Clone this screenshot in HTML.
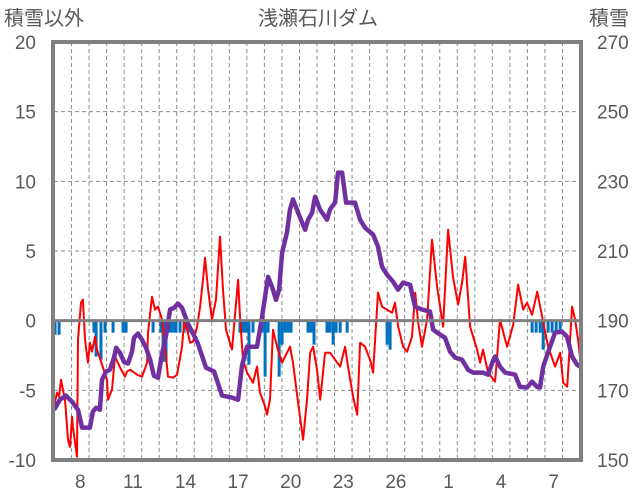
<!DOCTYPE html>
<html><head><meta charset="utf-8">
<style>
html,body{margin:0;padding:0;background:#fff;}
svg{display:block;font-family:"Liberation Sans","Noto Sans CJK JP",sans-serif;}
</style></head>
<body>
<svg id="chart" width="636" height="501" viewBox="0 0 636 501">
<text x="318" y="25" text-anchor="middle" font-size="20" fill="#595959">浅瀬石川ダム</text>
<text x="4" y="25" font-size="20" fill="#595959">積雪以外</text>
<text x="589" y="25" font-size="20" fill="#595959">積雪</text>
<g id="grid"></g><g id="bars"></g><g id="lines"></g><g id="frame"></g><g id="labels"></g>
</svg>
<script>
const leftTicks=[-10,-5,0,5,10,15,20];
const rightTicks=[150,170,190,210,230,250,270];
const dayLabels=["8","11","14","17","20","23","26","1","4","7"];
const dayLabelIdx=[1,4,7,10,13,16,19,22,25,28];
const nDays=30;
const redT=[0,.17,.29,.40,.51,.63,.80,.91,1.03,1.08,1.31,1.37,1.54,1.65,1.77,1.94,2.05,2.17,2.34,2.45,2.74,3.02,3.08,3.31,3.48,3.77,4.05,4.16,4.34,4.74,5.02,5.31,5.36,5.59,5.76,5.93,6.16,6.33,6.50,6.79,7.02,7.30,7.42,7.59,7.76,7.93,8.16,8.33,8.50,8.61,8.79,9.01,9.24,9.47,9.64,9.81,10.15,10.50,10.61,10.78,11.01,11.35,11.58,11.75,12.04,12.15,12.32,12.49,12.72,13.01,13.46,13.63,13.92,14.21,14.43,14.61,14.78,15.00,15.18,15.46,15.75,16.03,16.32,16.60,16.77,17.06,17.29,17.46,17.74,18.03,18.20,18.48,18.71,19.00,19.28,19.45,19.63,19.91,20.14,20.42,20.60,20.77,20.99,21.28,21.56,21.85,22.19,22.48,22.76,23.05,23.28,23.45,23.73,24.13,24.30,24.47,24.76,25.16,25.44,25.84,26.19,26.47,26.76,26.98,27.27,27.56,27.84,28.18,28.58,28.87,29.04,29.27,29.55,29.72,29.89,30.00];
const redV=[-6.17,-5.17,-5.46,-4.24,-4.95,-5.67,-8.54,-9.05,-6.89,-7.61,-9.76,-1.36,1.29,1.51,-1.36,-3.02,-1.58,-2.23,-1.15,-2.08,-3.16,-4.24,-5.67,-4.95,-2.58,-3.37,-4.02,-3.66,-3.52,-3.88,-4.02,-3.02,-0.86,1.72,0.79,1.01,0.07,-1.87,-4.02,-4.09,-3.88,-1.87,-0.14,-0.65,-1.58,-1.51,-0.43,1.01,2.94,4.52,2.23,0.07,1.51,6.03,2.23,-0.65,-2.08,2.94,0.29,-2.80,-3.73,-4.45,-3.30,-5.17,-6.17,-6.75,-5.67,-0.65,-1.87,-3.02,-1.87,-3.02,-5.89,-8.54,-5.67,-2.30,-1.87,-3.52,-5.67,-2.30,-2.30,-2.80,-3.30,-1.87,-3.30,-5.46,-6.75,-1.58,-1.87,-2.80,-3.73,2.01,1.01,0.79,0.57,1.29,-0.43,-1.87,-2.23,-1.15,2.01,-0.14,-1.87,0.07,5.82,2.44,-0.43,6.53,3.09,1.15,2.80,4.59,-0.43,-2.08,-3.02,-2.08,-3.73,-4.38,0.07,-1.87,-0.29,2.58,0.79,1.29,0.43,2.08,0.29,-1.87,-3.30,-2.30,-4.45,-4.74,1.01,0.07,-1.36,-2.66];
const snowT=[0,.34,.68,1.03,1.37,1.6,2.05,2.22,2.4,2.62,2.74,2.97,3.19,3.42,3.54,3.76,3.99,4.22,4.45,4.56,4.79,5.02,5.25,5.48,5.7,5.93,6.16,6.39,6.62,6.85,7.07,7.3,7.64,7.99,8.21,8.67,9.13,9.58,10.15,10.5,10.72,11.01,11.58,11.87,12.04,12.21,12.49,12.66,12.84,13.01,13.29,13.46,13.63,13.92,14.32,14.49,14.72,14.89,15.17,15.57,15.74,16.03,16.2,16.43,16.66,17.17,17.46,17.74,18.2,18.48,18.71,19.0,19.34,19.62,19.91,20.31,20.59,20.99,21.45,21.62,22.02,22.3,22.59,22.88,23.27,23.62,23.9,24.47,24.76,24.99,25.16,25.44,25.73,26.3,26.58,26.98,27.27,27.55,27.72,27.9,28.29,28.58,28.98,29.26,29.55,29.83,30.0];
const snowV=[164.4,167.3,168.5,166.7,164.4,159.3,159.3,163.9,165.0,164.4,173.0,175.4,175.9,179.4,182.2,180.8,178.2,177.7,181.1,185.1,186.3,184.5,182.2,178.8,174.2,173.6,180.5,185.7,193.2,193.7,194.9,193.7,189.1,185.7,183.4,176.5,175.4,168.5,167.9,167.3,177.1,182.5,182.5,191.1,196.9,202.6,198.9,196.0,198.9,209.5,215.3,221.9,224.8,221.0,216.1,219.0,221.0,225.6,221.9,219.0,221.9,223.9,232.5,232.5,223.9,223.9,219.0,216.7,214.7,211.3,205.5,203.2,201.2,198.9,200.9,200.3,194.0,193.2,192.6,187.4,186.0,185.1,181.1,179.4,178.8,175.9,175.1,175.1,174.5,177.9,179.7,176.8,175.1,174.5,171.0,170.8,172.5,171.0,170.8,176.8,182.5,186.6,186.8,185.4,179.7,177.4,176.8];
const precipT=[.06,.29,2.28,2.40,2.68,2.91,3.37,3.94,4.11,5.65,6.10,6.22,6.39,6.62,6.79,6.96,7.19,7.42,7.64,10.61,10.78,10.95,11.12,11.35,11.87,12.04,12.21,12.84,13.01,13.18,13.35,13.52,14.49,14.66,14.83,15.57,15.74,15.92,16.09,16.32,16.72,19.0,19.17,27.27,27.50,27.73,27.90,28.18,28.41,28.64,28.87];
const precipV=[-1.01,-1.01,-0.86,-2.58,-2.80,-0.86,-0.86,-0.86,-0.86,-0.86,-0.86,-2.95,-2.95,-0.86,-0.86,-0.86,-0.86,-0.86,-0.86,-0.86,-0.86,-0.86,-3.16,-0.86,-0.86,-4.02,-0.86,-4.02,-1.72,-0.86,-0.86,-0.86,-0.86,-0.86,-1.72,-0.86,-0.86,-1.72,-0.86,-0.86,-0.86,-1.72,-2.08,-0.86,-0.86,-0.86,-2.08,-0.86,-0.86,-0.86,-0.86];

const L=54,R=580,T=42,B=460;
const NS="http://www.w3.org/2000/svg";
function xS(t){return L+t*(R-L)/nDays;}
function yL(v){return B-(v+10)*(B-T)/30;}
function yR(s){return B-(s-150)*(B-T)/120;}
function mk(tag,attrs,parent){const e=document.createElementNS(NS,tag);for(const k in attrs)e.setAttribute(k,attrs[k]);parent.appendChild(e);return e;}
const grid=document.getElementById('grid'),bars=document.getElementById('bars'),lines=document.getElementById('lines'),frame=document.getElementById('frame'),labels=document.getElementById('labels');
for(let d=1;d<nDays;d++){
  const g=mk('line',{x1:xS(d),x2:xS(d),y1:T,y2:B,stroke:'#8c8c8c','stroke-width':1,'stroke-dasharray':'4,3'},grid);
  
  
}
leftTicks.forEach((v,i)=>{
  if(v!==0&&v!==-10&&v!==20){
    const g=mk('line',{x1:L,x2:R,y1:yL(v),y2:yL(v),stroke:'#8c8c8c','stroke-width':1,'stroke-dasharray':'4,3'},grid);
    
    
  }
  const t=mk('text',{x:36,y:yL(v)+7,'text-anchor':'end','font-size':19,fill:'#595959'},labels);
  t.textContent=String(v);
  
  
});
rightTicks.forEach(s=>{
  const t=mk('text',{x:597,y:yR(s)+7,'font-size':19,fill:'#595959'},labels);
  t.textContent=String(s);
  
  
});
dayLabels.forEach((lab,i)=>{
  const t=mk('text',{x:xS(dayLabelIdx[i]+0.5),y:488,'text-anchor':'middle','font-size':19,fill:'#595959'},labels);
  t.textContent=lab;
  
  
});
precipT.forEach((t,i)=>{
  const y0=yL(0),y1=yL(precipV[i]);
  const b=mk('rect',{x:xS(t)-1.5,y:y0,width:3,height:y1-y0,fill:'#0070C0'},bars);
  
  
});
let pts=redT.map((t,i)=>xS(t).toFixed(1)+','+yL(redV[i]).toFixed(1)).join(' ');
const rl=mk('polyline',{points:pts,fill:'none',stroke:'#FF0000','stroke-width':2,'stroke-linejoin':'round'},lines);


pts=snowT.map((t,i)=>xS(t).toFixed(1)+','+yR(snowV[i]).toFixed(1)).join(' ');
const sl=mk('polyline',{points:pts,fill:'none',stroke:'#7030A0','stroke-width':4.5,'stroke-linejoin':'round'},lines);


const z=mk('line',{x1:L,x2:R,y1:yL(0),y2:yL(0),stroke:'#808080','stroke-width':3},frame);


const fr=mk('rect',{x:L-1,y:T,width:R-L+2,height:B-T,fill:'none',stroke:'#808080','stroke-width':4},frame);


</script>
</body></html>
